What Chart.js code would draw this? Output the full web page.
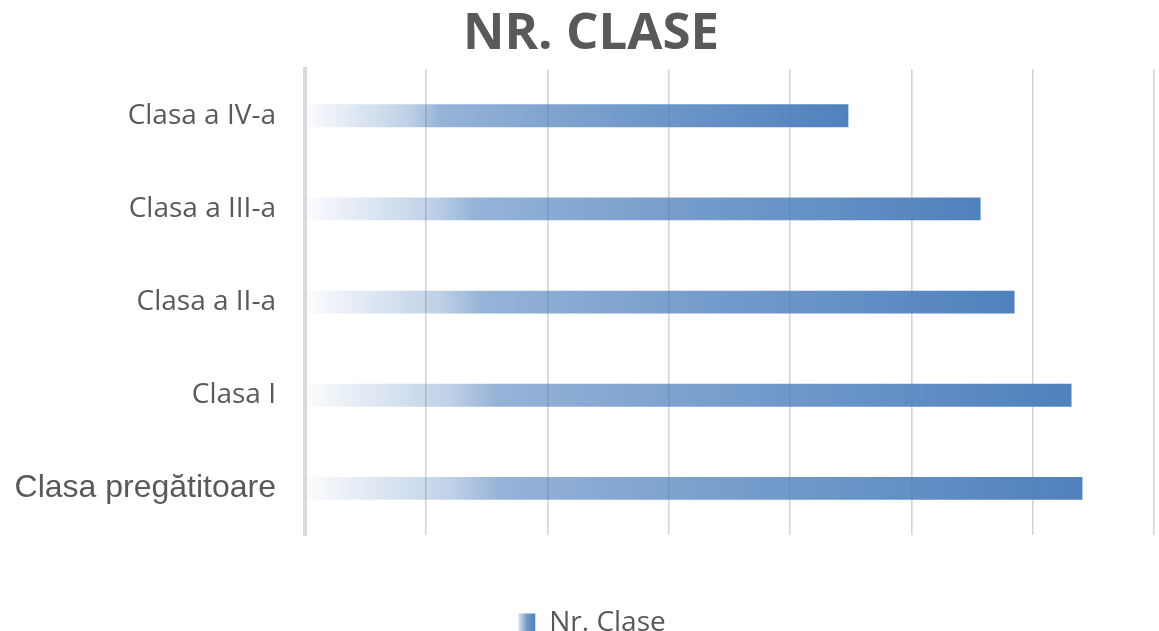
<!DOCTYPE html>
<html>
<head>
<meta charset="utf-8">
<script src="https://cdn.jsdelivr.net/npm/chart.js@4/dist/chart.umd.min.js"></script>
<style>
  html, body { margin:0; padding:0; background:#fff; }
  #wrap { width:1159px; height:631px; }
</style>
</head>
<body>
<div id="wrap"><canvas id="chart"></canvas></div>
<script>
// Date grafic (ordine Excel: prima categorie jos)
const categorii = ['Clasa pregătitoare', 'Clasa I', 'Clasa a II-a', 'Clasa a III-a', 'Clasa a IV-a'];
const nrClase   = [6.41, 6.32, 5.85, 5.57, 4.48];
const axaMax    = 7;

const blue = 'rgb(79,129,189)';
const gray = '#595959';

// gradient Excel: transparent la stanga -> albastru la capat
function addStops(g){
  g.addColorStop(0,    'rgba(79,129,189,0.02)');
  g.addColorStop(0.19, 'rgba(79,129,189,0.37)');
  g.addColorStop(0.25, 'rgba(79,129,189,0.60)');
  g.addColorStop(0.52, 'rgba(79,129,189,0.76)');
  g.addColorStop(1,    'rgba(79,129,189,1)');
  return g;
}

function barFill(c){
  const chart = c.chart;
  const x = chart.scales.x;
  if (!chart.chartArea || !x) return blue;
  const x0 = x.getPixelForValue(0);
  const x1 = x.getPixelForValue(c.raw);
  if (!isFinite(x0) || !isFinite(x1) || x1 <= x0) return blue;
  return addStops(chart.ctx.createLinearGradient(x0, 0, x1, 0));
}

// titlu si legenda: mutate putin (ca in Excel) + cutie legenda cu gradient
const layoutTweak = {
  id: 'layoutTweak',
  afterLayout(ch){
    const lg = ch.legend;
    if (lg) {
      lg.left += 15; lg.right += 15;
      lg.top += 16; lg.bottom += 16;
    }
    const tb = ch.titleBlock;
    if (tb) { tb.left += 14; tb.right += 14; }
  },
  beforeDraw(ch){
    const lg = ch.legend;
    if (!lg || !lg.legendHitBoxes || !lg.legendHitBoxes[0]) return;
    const hb = lg.legendHitBoxes[0];
    const g = ch.ctx.createLinearGradient(hb.left, 0, hb.left + 17, 0);
    g.addColorStop(0, 'rgba(79,129,189,0.2)');
    g.addColorStop(0.5, 'rgba(79,129,189,0.8)');
    g.addColorStop(1, 'rgba(79,129,189,1)');
    lg.legendItems.forEach(it => { it.fillStyle = g; it.lineWidth = 0; it.strokeStyle = 'rgba(0,0,0,0)'; });
  }
};

const chart = new Chart(document.getElementById('chart'), {
  type: 'bar',
  data: {
    labels: categorii,
    datasets: [{
      label: 'Nr. Clase',
      data: nrClase,
      backgroundColor: barFill,
      borderWidth: 0,
      categoryPercentage: 0.5,
      barPercentage: 0.49
    }]
  },
  plugins: [layoutTweak],
  options: {
    indexAxis: 'y',
    responsive: true,
    maintainAspectRatio: false,
    animation: false,
    layout: { padding: { left: 0, right: 5, top: 0, bottom: 0 } },
    plugins: {
      title: {
        display: true,
        text: 'NR. CLASE',
        color: gray,
        font: { family: 'Open Sans', size: 51, weight: 'bold' },
        padding: { top: 4, bottom: 4 }
      },
      legend: {
        position: 'bottom',
        labels: {
          color: gray,
          font: { family: 'Open Sans', size: 28 },
          boxWidth: 17,
          boxHeight: 19,
          padding: 4
        }
      },
      tooltip: { enabled: false }
    },
    scales: {
      x: {
        min: 0,
        max: axaMax,
        ticks: { display: false, stepSize: 1 },
        grid: { color: '#d4d4d4', lineWidth: 1.6, drawTicks: false },
        border: { display: false },
        afterFit(s){ s.height = 54; }
      },
      y: {
        reverse: true,
        grid: { display: false },
        border: { display: true, color: '#dadada', width: 4 },
        ticks: {
          color: gray,
          padding: 21,
          font: (c) => c.index === 0
            ? { family: 'Liberation Sans', size: 32 }
            : { family: 'Open Sans', size: 28 }
        },
        afterFit(s){ s.width = 305; }
      }
    }
  }
});
</script>
</body>
</html>
